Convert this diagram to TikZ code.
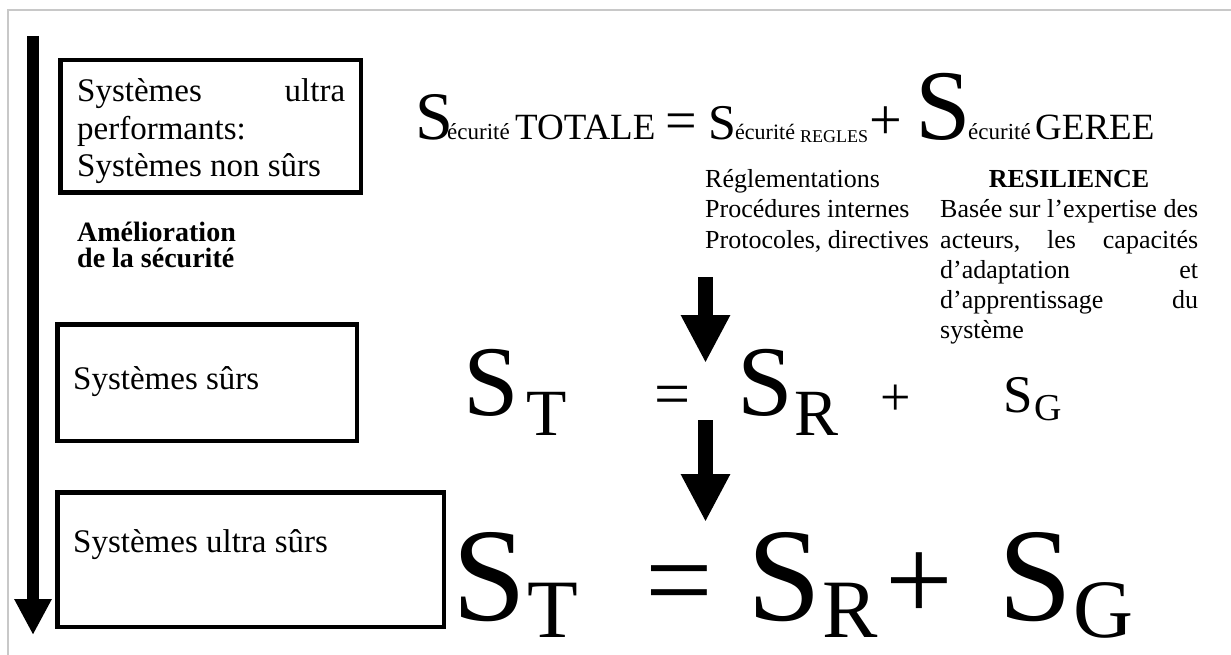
\documentclass[tikz,border=0pt]{standalone}
\usepackage{fontspec}
\setmainfont{Liberation Serif}
\usetikzlibrary{arrows.meta,positioning}
\definecolor{cadre}{RGB}{200,200,200}
\newcommand{\taille}[1]{\fontsize{#1}{#1}\selectfont}

\begin{document}
\begin{tikzpicture}[x=1pt,y=-1pt,
  boite/.style={draw,line width=4.5pt,inner sep=0pt,anchor=north west},
  mot/.style={inner sep=0pt,anchor=base west},
  fleche/.style={-{Triangle[length=48pt,width=46pt]},line width=15pt}]
\useasboundingbox (0,0) rectangle (1231,655);
\draw[cadre,line width=1.5pt] (8,655) -- (8,10) -- (1231,10);

% grande fleche a gauche
\coordinate (haut) at (33,36);
\coordinate (bas) at (33,635);
\draw[-{Triangle[length=36pt,width=35pt]},line width=12pt] (haut) -- (bas);

% les trois boites
\node[boite,minimum width=300.5pt,minimum height=132.5pt] (boite1) at (58,58) {};
\node[boite,minimum width=299.5pt,minimum height=116.5pt] (boite2) at (55,322) {};
\node[boite,minimum width=386.5pt,minimum height=134.5pt] (boite3) at (55,490) {};

\node[mot,font=\taille{33}] (l1) at (77,102) {\hbox to 268pt{Systèmes\hfill ultra}};
\node[mot,font=\taille{33}] (l2) at (77,140) {performants:};
\node[mot,font=\taille{33}] (l3) at (77,177) {Systèmes non sûrs};
\node[mot,font=\bfseries\taille{28}] (am1) at (77,241) {Amélioration};
\node[mot,font=\bfseries\taille{28}] (am2) at (77,267) {de la sécurité};
\node[mot,font=\taille{33}] (surs) at (73,389) {Systèmes sûrs};
\node[mot,font=\taille{33}] (ultra) at (73,552) {Systèmes ultra sûrs};

% equation du haut
\node[mot,font=\taille{68}] (s1) at (415,140) {S};
\node[mot,font=\taille{23}] (e1) at (447,140) {écurité};
\node[mot,font=\taille{37}] (tot) at (515,140) {TOTALE};
\node[mot,font=\taille{56}] (eg1) at (665,140) {=};
\node[mot,font=\taille{50}] (s2) at (708,140) {S};
\node[mot,font=\taille{22}] (e2) at (735,140) {écurité};
\node[mot,font=\taille{18}] (reg) at (800,143) {REGLES};
\node[mot,font=\taille{58}] (pl1) at (869,140) {+};
\node[mot,font=\taille{100}] (s3) at (915,140) {S};
\node[mot,font=\taille{23}] (e3) at (968,140) {écurité};
\node[mot,font=\taille{37}] (ger) at (1035,140) {GEREE};

% textes explicatifs
\node[mot,font=\taille{26}] (r1) at (705,188) {Réglementations};
\node[mot,font=\taille{26}] (r2) at (705,218) {Procédures internes};
\node[mot,font=\taille{26}] (r3) at (705,248) {Protocoles, directives};
\node[inner sep=0pt,anchor=base,font=\bfseries\taille{26}] (res) at (1069,188) {RESILIENCE};
\node[mot,font=\taille{26}] (p1) at (940,218) {\hbox to 258pt{Basée\hfill sur\hfill l’expertise\hfill des}};
\node[mot,font=\taille{26}] (p2) at (940,248) {\hbox to 258pt{acteurs,\hfill les\hfill capacités}};
\node[mot,font=\taille{26}] (p3) at (940,278) {\hbox to 258pt{d’adaptation\hfill et}};
\node[mot,font=\taille{26}] (p4) at (940,308) {\hbox to 258pt{d’apprentissage\hfill du}};
\node[mot,font=\taille{26}] (p5) at (940,338) {système};

% equation du milieu
\node[mot,font=\taille{100}] (st2) at (463,415) {S};
\node[mot,font=\taille{66}] (t2) at (526,435) {T};
\node[mot,font=\taille{64}] (eg2) at (654,415) {=};
\node[mot,font=\taille{100}] (sr2) at (737,415) {S};
\node[mot,font=\taille{66}] (r2b) at (794,435) {R};
\node[mot,font=\taille{54}] (pl2) at (880,415) {+};
\node[mot,font=\taille{53}] (sg2) at (1003,412) {S};
\node[mot,font=\taille{38}] (g2) at (1034,420) {G};

% equation du bas
\node[mot,font=\taille{133}] (st3) at (452,620) {S};
\node[mot,font=\taille{83}] (t3) at (527,637) {T};
\node[mot,font=\taille{120}] (eg3) at (645,620) {=};
\node[mot,font=\taille{133}] (sr3) at (747,620) {S};
\node[mot,font=\taille{83}] (r3b) at (822,637) {R};
\node[mot,font=\taille{120}] (pl3) at (885,620) {+};
\node[mot,font=\taille{133}] (sg3) at (998,620) {S};
\node[mot,font=\taille{83}] (g3) at (1073,637) {G};

% fleches du milieu
\coordinate (f1a) at (705.5,277);
\coordinate (f1b) at (705.5,363);
\coordinate (f2a) at (705.5,420);
\coordinate (f2b) at (705.5,522);
\draw[fleche] (f1a) -- (f1b);
\draw[fleche] (f2a) -- (f2b);
\end{tikzpicture}
\end{document}
